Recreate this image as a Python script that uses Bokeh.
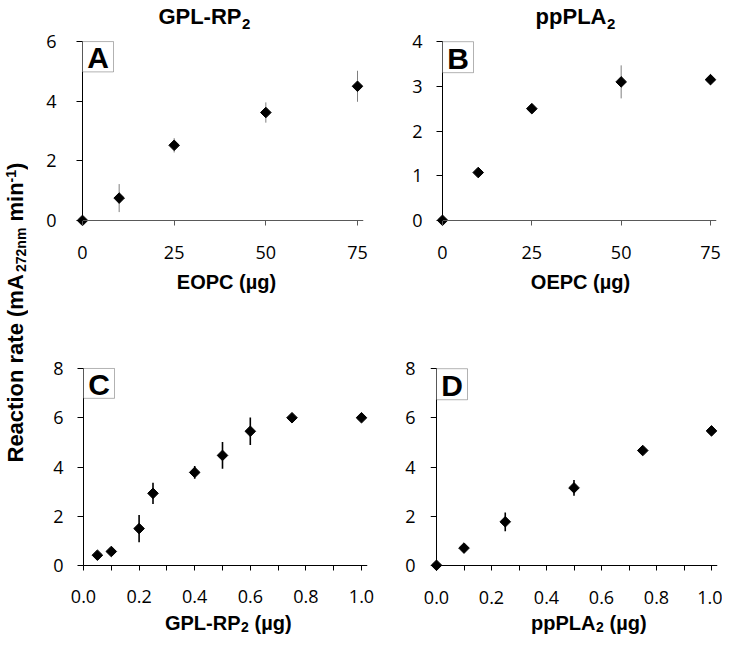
import numpy as np
from bokeh.plotting import figure
from bokeh.models import Range1d, FixedTicker, Label, BoxAnnotation, PrintfTickFormatter, LinearAxis
from bokeh.layouts import row, column
from bokeh.embed import file_html
from bokeh.resources import INLINE

# ---------------- data ----------------
# Panel A: GPL-RP2 activity vs EOPC amount
eopc_ug = [0, 10, 25, 50, 75]
rate_a = [0.0, 0.75, 2.52, 3.62, 4.50]
err_a = [0.0, 0.47, 0.24, 0.34, 0.52]
# Panel B: ppPLA2 activity vs OEPC amount
oepc_ug = [0, 10, 25, 50, 75]
rate_b = [0.0, 1.07, 2.50, 3.10, 3.15]
err_b = [0.0, 0.11, 0.05, 0.37, 0.12]
# Panel C: rate vs GPL-RP2 amount
gplrp2_ug = [0.05, 0.1, 0.2, 0.25, 0.4, 0.5, 0.6, 0.75, 1.0]
rate_c = [0.42, 0.57, 1.50, 2.93, 3.78, 4.47, 5.45, 6.00, 6.00]
err_c = [0.04, 0.06, 0.55, 0.43, 0.26, 0.54, 0.56, 0.12, 0.06]
# Panel D: rate vs ppPLA2 amount
pppla2_ug = [0.0, 0.1, 0.25, 0.5, 0.75, 1.0]
rate_d = [0.0, 0.70, 1.77, 3.15, 4.67, 5.47]
err_d = [0.0, 0.05, 0.38, 0.32, 0.08, 0.06]

ticks_ab_x = [0, 25, 50, 75]
ticks_a_y = [0, 2, 4, 6]
ticks_b_y = [0, 1, 2, 3, 4]
ticks_cd_x = [0.0, 0.2, 0.4, 0.6, 0.8, 1.0]
minor_cd_x = [0.1, 0.3, 0.5, 0.7, 0.9]
ticks_cd_y = [0, 2, 4, 6, 8]

BOLD = "Liberation Sans"
TICKF = "Open Sans"
TOP_EXTRA = 7


def panel(w, h, origin, xmap, ymap, frame):
    ox, oy = origin
    xa, pxa, xb, pxb = xmap
    ya, pya, yb, pyb = ymap
    L, R, T, B = frame
    sx = (pxb - pxa) / (xb - xa)
    sy = (pya - pyb) / (yb - ya)
    X = lambda px: xa + (px - pxa) / sx
    Y = lambda py: ya + (pya - py) / sy
    p = figure(width=w, height=h,
               x_range=Range1d(X(L), X(R)), y_range=Range1d(Y(B), Y(T)),
               output_backend="svg", toolbar_location=None, title=None,
               min_border_left=L - ox, min_border_right=ox + w - R,
               min_border_top=max(0, T - oy - TOP_EXTRA), min_border_bottom=oy + h - B)
    p.grid.visible = False
    p.outline_line_color = None
    p.background_fill_color = "white"
    p.border_fill_color = "white"
    return p, X, Y


def style_axes(p, X, frame, xticks, xminor, yticks, ymax, xcolor, xstand, ystand, xfmt=None):
    L, R, T, B = frame
    # tick-label axes on the frame edges
    ax = p.xaxis[0]
    ay = p.yaxis[0]
    ax.ticker = FixedTicker(ticks=xticks)
    ay.ticker = FixedTicker(ticks=yticks)
    if xfmt:
        ax.formatter = PrintfTickFormatter(format=xfmt)
    for a in (ax, ay):
        a.axis_line_color = None
        a.major_tick_line_color = None
        a.minor_tick_line_color = None
        a.major_tick_out = 0
        a.major_tick_in = 0
        a.minor_tick_out = 0
        a.minor_tick_in = 0
        a.major_label_text_font = TICKF
        a.major_label_text_font_size = "18px"
        a.major_label_text_color = "black"
    ax.major_label_standoff = xstand
    ay.major_label_standoff = ystand
    # axis lines and ticks through the data origin (ticks point away from the data)
    fx = LinearAxis(fixed_location=0, bounds=(0, X(R)),
                    ticker=FixedTicker(ticks=xticks, minor_ticks=xminor),
                    axis_line_color=xcolor, major_tick_line_color=xcolor,
                    minor_tick_line_color=(xcolor if xminor else None),
                    major_tick_in=5, major_tick_out=0, minor_tick_in=5, minor_tick_out=0,
                    major_label_text_color=None, major_label_text_font_size="1px",
                    major_label_standoff=0)
    fy = LinearAxis(fixed_location=0, bounds=(0, ymax),
                    ticker=FixedTicker(ticks=yticks),
                    axis_line_color="black", major_tick_line_color="black",
                    minor_tick_line_color=None,
                    major_tick_in=6, major_tick_out=0, minor_tick_in=0, minor_tick_out=0,
                    major_label_text_color=None, major_label_text_font_size="1px",
                    major_label_standoff=0)
    p.add_layout(fx, "above")
    p.add_layout(fy, "right")


def draw(p, xs, ys, es, ecolor, ewidth):
    lo = [y - e for y, e in zip(ys, es)]
    hi = [y + e for y, e in zip(ys, es)]
    p.segment(x0=xs, y0=lo, x1=xs, y1=hi, line_color=ecolor, line_width=ewidth)
    p.scatter(xs, ys, marker="square", angle=np.pi / 4, size=7.5,
              fill_color="black", line_color="black")


def box_letter(p, X, Y, px, py, letter):
    w, h = 31, 30
    p.add_layout(BoxAnnotation(left=X(px), right=X(px + w), top=Y(py), bottom=Y(py + h),
                               fill_color="white", fill_alpha=1.0,
                               line_color="black", line_width=1))
    p.add_layout(Label(x=X(px + w / 2), y=Y(py + h / 2 + 1), text=letter,
                       text_align="center", text_baseline="middle",
                       text_font=BOLD, text_font_style="bold",
                       text_font_size="30px", text_color="black"))


def textfig(w, h, origin):
    ox, oy = origin
    f = figure(width=w, height=h, x_range=Range1d(0, w), y_range=Range1d(0, h),
               x_axis_type=None, y_axis_type=None, output_backend="svg",
               toolbar_location=None, min_border=0, title=None)
    f.outline_line_color = None
    f.border_fill_color = "white"
    f.background_fill_color = "white"

    # (px, py) = centre of the text's em box, in page pixels
    def put(px, py, s, size, align="left", angle=0.0):
        f.add_layout(Label(x=px - ox, y=oy + h - py, text=s, text_align=align,
                           text_baseline="middle", angle=angle,
                           text_font=BOLD, text_font_style="bold",
                           text_font_size=size, text_color="black"))
    return f, put


# ---------------- titles (row 0..30) ----------------
tA, putA = textfig(364, 30, (28, 0))
putA(241, 16, "GPL-RP", "22px", "right")
putA(241.5, 23, "2", "15px")
tB, putB = textfig(330, 30, (392, 0))
putB(606, 16, "ppPLA", "22px", "right")
putB(606.5, 23, "2", "15px")

# ---------------- panels A / B (row 30..268) ----------------
frA = (75, 363, 37, 226)
pA, XA, YA = panel(364, 238, (28, 30), (0, 82, 75, 357), (0, 220, 6, 43), frA)
style_axes(pA, XA, frA, ticks_ab_x, [], ticks_a_y, 6, "#595959", 19, 19)
draw(pA, eopc_ug, rate_a, err_a, "#7f7f7f", 1)
box_letter(pA, XA, YA, 82, 43, "A")

frB = (435, 716, 42, 227)
pB, XB, YB = panel(330, 238, (392, 30), (0, 442, 75, 710), (0, 221, 4, 48), frB)
style_axes(pB, XB, frB, ticks_ab_x, [], ticks_b_y, 4, "#595959", 19, 13)
draw(pB, oepc_ug, rate_b, err_b, "#7f7f7f", 1)
box_letter(pB, XB, YB, 442, 48, "B")

# ---------------- x titles A / B (row 268..296) ----------------
xA, putXA = textfig(364, 28, (28, 268))
putXA(226, 281, "EOPC (µg)", "20px", "center")
xB, putXB = textfig(330, 28, (392, 268))
putXB(580, 281, "OEPC (µg)", "20px", "center")

# ---------------- panels C / D (row 296..614) ----------------
frC = (76, 367, 362, 572)
pC, XC, YC = panel(364, 318, (28, 296), (0, 83, 1.0, 361), (0, 566, 8, 368), frC)
style_axes(pC, XC, frC, ticks_cd_x, minor_cd_x, ticks_cd_y, 8, "black", 18, 13, "%.1f")
draw(pC, gplrp2_ug, rate_c, err_c, "black", 1.6)
box_letter(pC, XC, YC, 83, 368, "C")

frD = (430, 717, 369, 571)
pD, XD, YD = panel(330, 318, (392, 296), (0, 436, 1.0, 711), (0, 565, 8, 375), frD)
style_axes(pD, XD, frD, ticks_cd_x, minor_cd_x, ticks_cd_y, 8, "black", 19, 15, "%.1f")
draw(pD, pppla2_ug, rate_d, err_d, "black", 1.6)
box_letter(pD, XD, YD, 436, 375, "D")

# ---------------- x titles C / D (row 614..634) ----------------
xC, putXC = textfig(364, 20, (28, 614))
putXC(240, 622.5, "GPL-RP", "20px", "right")
putXC(240.5, 626, "2", "14px")
putXC(254, 622.5, "(µg)", "20px")
xD, putXD = textfig(330, 20, (392, 614))
putXD(595, 622.5, "ppPLA", "20px", "right")
putXD(595.5, 626, "2", "14px")
putXD(609, 622.5, "(µg)", "20px")

# ---------------- shared y-axis title (rotated, reads bottom to top) ----------------
lab, putL = textfig(28, 634, (0, 0))
putL(15, 462, "Reaction rate (mA", "22px", angle=np.pi / 2)
putL(20, 271.5, "272nm", "14px", angle=np.pi / 2)
putL(15, 221, "min", "22px", angle=np.pi / 2)
putL(10.5, 182, "-1", "14px", angle=np.pi / 2)
putL(15, 169.5, ")", "22px", angle=np.pi / 2)

layout = row(lab, column(row(tA, tB), row(pA, pB), row(xA, xB), row(pC, pD), row(xC, xD)))
open("out.html", "w").write(file_html(layout, INLINE))
